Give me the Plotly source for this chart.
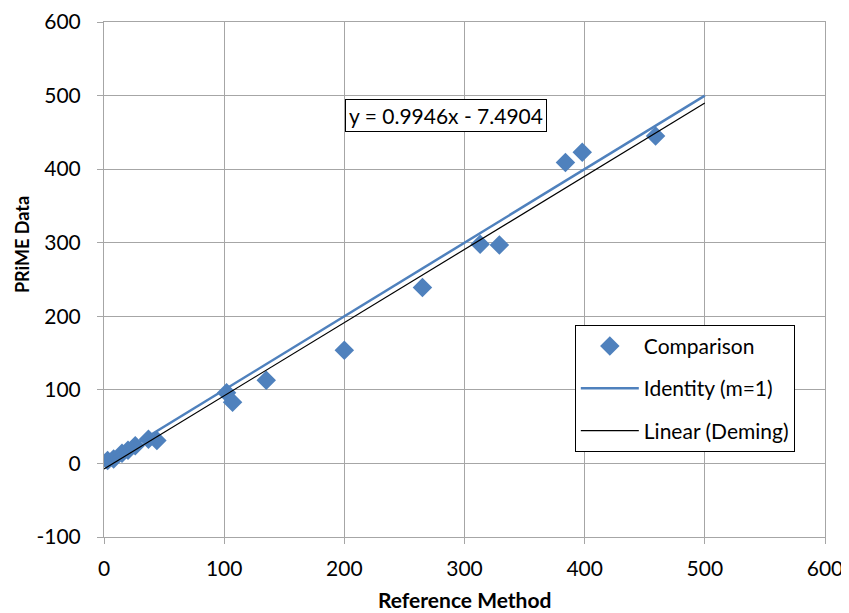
import plotly.graph_objects as go

# Data
ref_x = [3, 8, 15, 20, 26, 37, 44, 102, 107, 135, 200, 265, 313, 329, 384, 398, 459]
prime_y = [4, 6, 14, 18, 24, 33, 31, 96, 83, 113, 154, 239, 298, 297, 409, 423, 445]

identity_x = [0, 500]
slope = 0.9946
intercept = -7.4904
deming_x = [0, 500]

x_ticks = [0, 100, 200, 300, 400, 500, 600]
y_ticks = [-100, 0, 100, 200, 300, 400, 500, 600]
y_tick_text = ["-100", "0", "100", "200", "300", "400", "500", "600"]

blue = "#4F81BD"
grid = "#A6A6A6"
FONT = "Lato, 'Noto Sans', sans-serif"

fig = go.Figure()
fig.add_trace(go.Scatter(
    x=ref_x, y=prime_y, mode="markers", name="Comparison",
    marker=dict(symbol="diamond", size=15, color=blue),
    legendgroup="a",
))
fig.add_trace(go.Scatter(
    x=identity_x, y=identity_x, mode="lines", name="Identity (m=1)",
    line=dict(color=blue, width=2.5), legendgroup="b",
))
fig.add_trace(go.Scatter(
    x=deming_x, y=[slope * v + intercept for v in deming_x], mode="lines",
    name="Linear (Deming)", line=dict(color="black", width=1.2), legendgroup="c",
))

fig.add_annotation(
    x=284.5, y=473, xref="x", yref="y", text="y = 0.9946x - 7.4904",
    showarrow=False, font=dict(family=FONT, size=21, color="black"),
    bordercolor="black", borderwidth=1, bgcolor="white", borderpad=3,
)
# axis titles
fig.add_annotation(
    x=-0.1137, y=0.567, xref="paper", yref="paper", text="<b>PRiME Data</b>",
    textangle=-90, showarrow=False, xanchor="center", yanchor="middle",
    font=dict(family=FONT, size=18, color="black"),
)
fig.add_annotation(
    x=0.5, y=-0.121, xref="paper", yref="paper", text="<b>Reference Method</b>",
    showarrow=False, xanchor="center", yanchor="middle",
    font=dict(family=FONT, size=21, color="black"),
)

axis_common = dict(
    showgrid=True, gridcolor=grid, gridwidth=1,
    showline=True, linecolor=grid, linewidth=1, mirror=True,
    ticks="outside", ticklen=6, tickcolor=grid,
    zeroline=False, automargin=False,
    tickfont=dict(family=FONT, size=21, color="black"),
)

fig.update_xaxes(range=[0, 600], tickvals=x_ticks, ticklabelstandoff=7, **axis_common)
fig.update_yaxes(range=[-100, 600], tickvals=y_ticks, ticktext=y_tick_text,
                 ticklabelstandoff=12, **axis_common)

# page body has an 8px margin, so the figure is sized/offset to compensate
fig.update_layout(
    width=841, height=605,
    margin=dict(l=96, r=24, t=14, b=76),
    plot_bgcolor="white", paper_bgcolor="white",
    font=dict(family=FONT),
    showlegend=True,
    legend=dict(
        x=0.653, y=0.412, xanchor="left", yanchor="top",
        bordercolor="black", borderwidth=1, bgcolor="white",
        font=dict(family=FONT, size=21, color="black"),
        tracegroupgap=12, traceorder="grouped",
        itemwidth=58,
    ),
)

fig.write_html("out.html")
